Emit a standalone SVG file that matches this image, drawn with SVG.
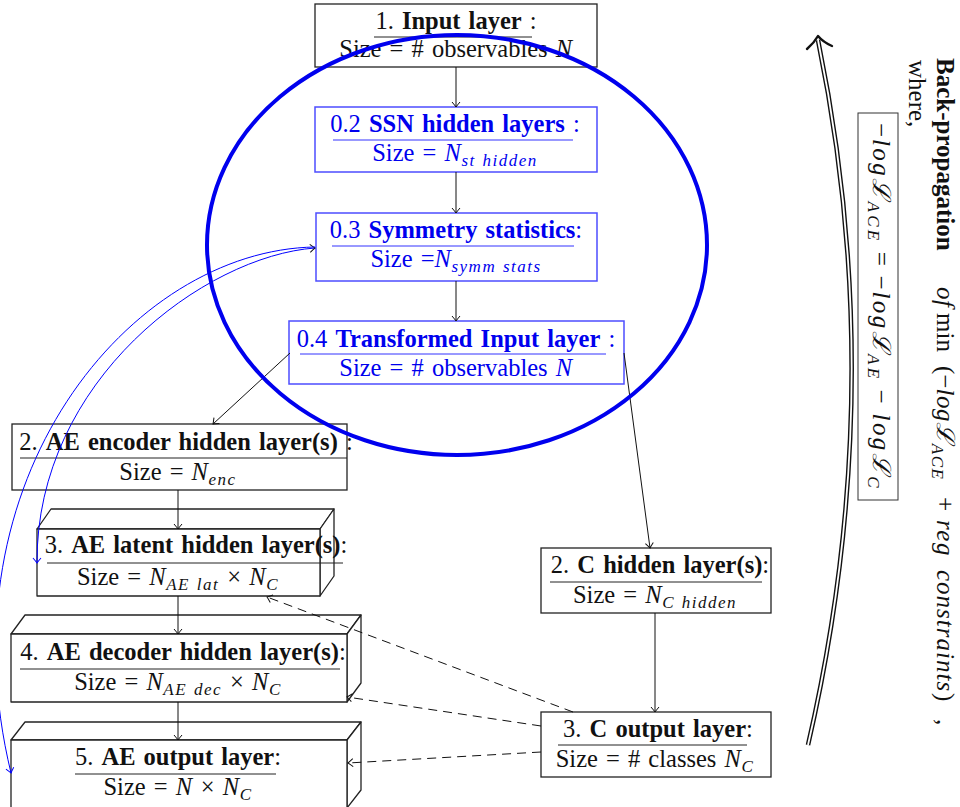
<svg xmlns="http://www.w3.org/2000/svg" width="960" height="807" viewBox="0 0 960 807">
<defs>
<style>
.t{font-family:"Liberation Serif","Times New Roman",serif;font-size:24.5px;word-spacing:2px;fill:#111}
.r{font-size:25px;word-spacing:0}
.bl{fill:#0000ee}
.b{font-weight:bold}
.i{font-style:italic;letter-spacing:0.6px}
.s{font-size:17px;font-style:italic;letter-spacing:1.5px;word-spacing:1px}
.box{fill:#fff;stroke:#222;stroke-width:1.3}
.cube{fill:#fff;stroke:#222;stroke-width:1.3;stroke-linejoin:round}
.bbox{fill:#fff;stroke:#4d4dff;stroke-width:1.5}
.ul{stroke:#222;stroke-width:1}
.ulb{stroke:#3333ff;stroke-width:1}
.c{fill:none;stroke:#111;stroke-width:1}
.d{fill:none;stroke:#111;stroke-width:1;stroke-dasharray:9 6}
.bc{fill:none;stroke:#0000ff;stroke-width:1}
</style>
<marker id="ah" markerUnits="userSpaceOnUse" markerWidth="12" markerHeight="12" refX="0" refY="0" viewBox="-8 -6 10 12" orient="auto" overflow="visible">
<path d="M-5,-4 Q-1.5,-1 0,0 Q-1.5,1 -5,4" fill="none" stroke="#111" stroke-width="1"/>
</marker>
<marker id="ahb" markerUnits="userSpaceOnUse" markerWidth="12" markerHeight="12" refX="0" refY="0" viewBox="-8 -6 10 12" orient="auto" overflow="visible">
<path d="M-5,-4 Q-1.5,-1 0,0 Q-1.5,1 -5,4" fill="none" stroke="#0000ff" stroke-width="1"/>
</marker>
<marker id="ahs" markerUnits="userSpaceOnUse" markerWidth="12" markerHeight="12" refX="0" refY="0" viewBox="-8 -6 10 12" orient="auto-start-reverse" overflow="visible">
<path d="M-5,-4 Q-1.5,-1 0,0 Q-1.5,1 -5,4" fill="none" stroke="#111" stroke-width="1"/>
</marker>
</defs>
<rect width="960" height="807" fill="#fff"/>

<g id="input-layer">
<rect class="box" x="315" y="4" width="282" height="63"/>
<line class="ul" x1="374" y1="37" x2="532" y2="37"/>
<text class="t" x="456" y="29" text-anchor="middle">1.  <tspan class="b">Input layer</tspan> :</text>
<text class="t" x="456" y="57" text-anchor="middle">Size = # observables <tspan class="i">N</tspan></text>
</g>

<g id="ssn-hidden">
<rect class="bbox" x="315" y="107" width="282" height="65"/>
<line class="ulb" x1="333" y1="140" x2="573" y2="140"/>
<text class="t bl" x="455" y="132" text-anchor="middle">0.2 <tspan class="b">SSN hidden layers</tspan> :</text>
<text class="t bl" x="455" y="161" text-anchor="middle">Size = <tspan class="i">N</tspan><tspan class="s" dy="5">st hidden</tspan></text>
</g>

<g id="symm-stats">
<rect class="bbox" x="316" y="213" width="281" height="68"/>
<line class="ulb" x1="332" y1="246" x2="574" y2="246"/>
<text class="t bl" x="456" y="238" text-anchor="middle">0.3 <tspan class="b">Symmetry statistics</tspan>:</text>
<text class="t bl" x="456" y="267" text-anchor="middle">Size =<tspan class="i">N</tspan><tspan class="s" dy="5">symm stats</tspan></text>
</g>

<g id="transformed-input">
<rect class="bbox" x="289" y="321" width="335" height="63"/>
<line class="ulb" x1="300" y1="354" x2="606" y2="354"/>
<text class="t bl" x="456" y="347" text-anchor="middle">0.4 <tspan class="b">Transformed Input layer</tspan> :</text>
<text class="t bl" x="456" y="376" text-anchor="middle">Size = # observables <tspan class="i">N</tspan></text>
</g>

<g id="ae-encoder">
<rect class="box" x="12" y="424" width="335" height="66"/>
<line class="ul" x1="20" y1="458" x2="347" y2="458"/>
<text class="t" x="186" y="450" text-anchor="middle">2.  <tspan class="b">AE encoder hidden layer(s)</tspan> :</text>
<text class="t" x="178" y="480" text-anchor="middle">Size = <tspan class="i">N</tspan><tspan class="s" dy="5">enc</tspan></text>
</g>

<g id="ae-latent">
<path class="cube" d="M37,529 L51,509 L334,509 L320,529 Z"/>
<path class="cube" d="M320,529 L334,509 L334,576 L320,596 Z"/>
<rect class="cube" x="37" y="529" width="283" height="67"/>
<line class="ul" x1="47" y1="563" x2="343" y2="563"/>
<text class="t" x="196" y="553" text-anchor="middle">3.  <tspan class="b">AE latent hidden layer(s)</tspan>:</text>
<text class="t" x="178" y="585" text-anchor="middle">Size = <tspan class="i">N</tspan><tspan class="s" dy="5">AE lat</tspan><tspan dy="-5"> × </tspan><tspan class="i">N</tspan><tspan class="s" dy="5">C</tspan></text>
</g>

<g id="ae-decoder">
<path class="cube" d="M11,634 L25,615 L361,615 L347,634 Z"/>
<path class="cube" d="M347,634 L361,615 L361,683 L347,702 Z"/>
<rect class="cube" x="11" y="634" width="336" height="68"/>
<line class="ul" x1="20" y1="669" x2="340" y2="669"/>
<text class="t" x="183" y="660" text-anchor="middle">4.  <tspan class="b">AE decoder hidden layer(s)</tspan>:</text>
<text class="t" x="178" y="690" text-anchor="middle">Size = <tspan class="i">N</tspan><tspan class="s" dy="5">AE dec</tspan><tspan dy="-5"> × </tspan><tspan class="i">N</tspan><tspan class="s" dy="5">C</tspan></text>
</g>

<g id="ae-output">
<path class="cube" d="M11,740 L25,722 L361,722 L347,740 Z"/>
<path class="cube" d="M347,740 L361,722 L361,790 L347,808 Z"/>
<rect class="cube" x="11" y="740" width="336" height="68"/>
<line class="ul" x1="75" y1="774" x2="276" y2="774"/>
<text class="t" x="178" y="765" text-anchor="middle">5.  <tspan class="b">AE output layer</tspan>:</text>
<text class="t" x="178" y="795" text-anchor="middle">Size = <tspan class="i">N</tspan>  ×  <tspan class="i">N</tspan><tspan class="s" dy="5">C</tspan></text>
</g>

<g id="c-hidden">
<rect class="box" x="541" y="548" width="230" height="65"/>
<line class="ul" x1="550" y1="582" x2="762" y2="582"/>
<text class="t" x="660" y="573" text-anchor="middle">2.  <tspan class="b">C hidden layer(s)</tspan>:</text>
<text class="t" x="655" y="603" text-anchor="middle">Size = <tspan class="i">N</tspan><tspan class="s" dy="5">C hidden</tspan></text>
</g>

<g id="c-output">
<rect class="box" x="541" y="712" width="230" height="65"/>
<line class="ul" x1="558" y1="745" x2="747" y2="745"/>
<text class="t" x="658" y="737" text-anchor="middle">3.  <tspan class="b">C output layer</tspan>:</text>
<text class="t" x="655" y="767" text-anchor="middle">Size = # classes <tspan class="i">N</tspan><tspan class="s" dy="5">C</tspan></text>
</g>

<g id="loss-box">
<rect x="858" y="113" width="40" height="387" fill="#fff" stroke="#333" stroke-width="1"/>
<g transform="translate(873,0) rotate(90)">
<text class="t r" x="123" y="0" textLength="366" lengthAdjust="spacing">−<tspan class="i">logℒ</tspan><tspan class="s" dy="5">ACE</tspan><tspan dy="-5"> = −</tspan><tspan class="i">logℒ</tspan><tspan class="s" dy="5">AE</tspan><tspan dy="-5"> − </tspan><tspan class="i">logℒ</tspan><tspan class="s" dy="5">C</tspan></text>
</g>
</g>

<g id="backprop-label">
<g transform="translate(937,0) rotate(90)">
<text class="t r"><tspan x="58" y="0" class="b">Back-propagation</tspan><tspan x="287" class="i">of</tspan><tspan x="313">min</tspan><tspan x="366">(−</tspan><tspan class="i">logℒ</tspan><tspan class="s" dy="5">ACE</tspan><tspan x="497" dy="-5">+</tspan><tspan x="520" class="i" style="letter-spacing:1.5px">reg</tspan><tspan x="570" class="i" style="letter-spacing:1px">constraints</tspan><tspan x="693">)</tspan><tspan x="719">,</tspan></text>
</g>
<g transform="translate(909,0) rotate(90)">
<text class="t r" x="60" y="0">where,</text>
</g>
</g>

<g id="connectors">
<line class="c" x1="456" y1="67" x2="456" y2="107" marker-end="url(#ah)"/>
<line class="c" x1="456" y1="172" x2="456" y2="213" marker-end="url(#ah)"/>
<line class="c" x1="456" y1="281" x2="456" y2="321" marker-end="url(#ah)"/>
<line class="c" x1="290" y1="353" x2="213" y2="424" marker-end="url(#ah)"/>
<line class="c" x1="624" y1="353" x2="650" y2="548" marker-end="url(#ah)"/>
<line class="c" x1="178" y1="490" x2="178" y2="529" marker-end="url(#ah)"/>
<line class="c" x1="178" y1="596" x2="178" y2="634" marker-end="url(#ah)"/>
<line class="c" x1="178" y1="702" x2="178" y2="740" marker-end="url(#ah)"/>
<line class="c" x1="655" y1="613" x2="655" y2="712" marker-end="url(#ah)"/>
<line class="d" x1="573" y1="712" x2="267" y2="597" marker-end="url(#ah)"/>
<line class="d" x1="541" y1="726" x2="347" y2="697" marker-end="url(#ah)"/>
<line class="d" x1="541" y1="752" x2="348" y2="763" marker-end="url(#ah)"/>
<path class="bc" d="M315,248 C205,256 36,380 37,563" marker-end="url(#ahb)" marker-start="url(#ahs)"/>
<path class="bc" d="M315,247 C130,250 -60,480 11,773" marker-end="url(#ahb)"/>
<path d="M808,745 Q890,390 818,40" fill="none" stroke="#111" stroke-width="4.6"/>
<path d="M808,745 Q890,390 818,40" fill="none" stroke="#fff" stroke-width="1.8"/>
<path d="M807,49 Q814,43 818,36 Q823,42 832,46" fill="none" stroke="#111" stroke-width="2.4" stroke-linecap="round" stroke-linejoin="round"/>
</g>

<ellipse id="ssn-ellipse" cx="457" cy="245" rx="250" ry="210" fill="none" stroke="#0000ee" stroke-width="4"/>
</svg>
